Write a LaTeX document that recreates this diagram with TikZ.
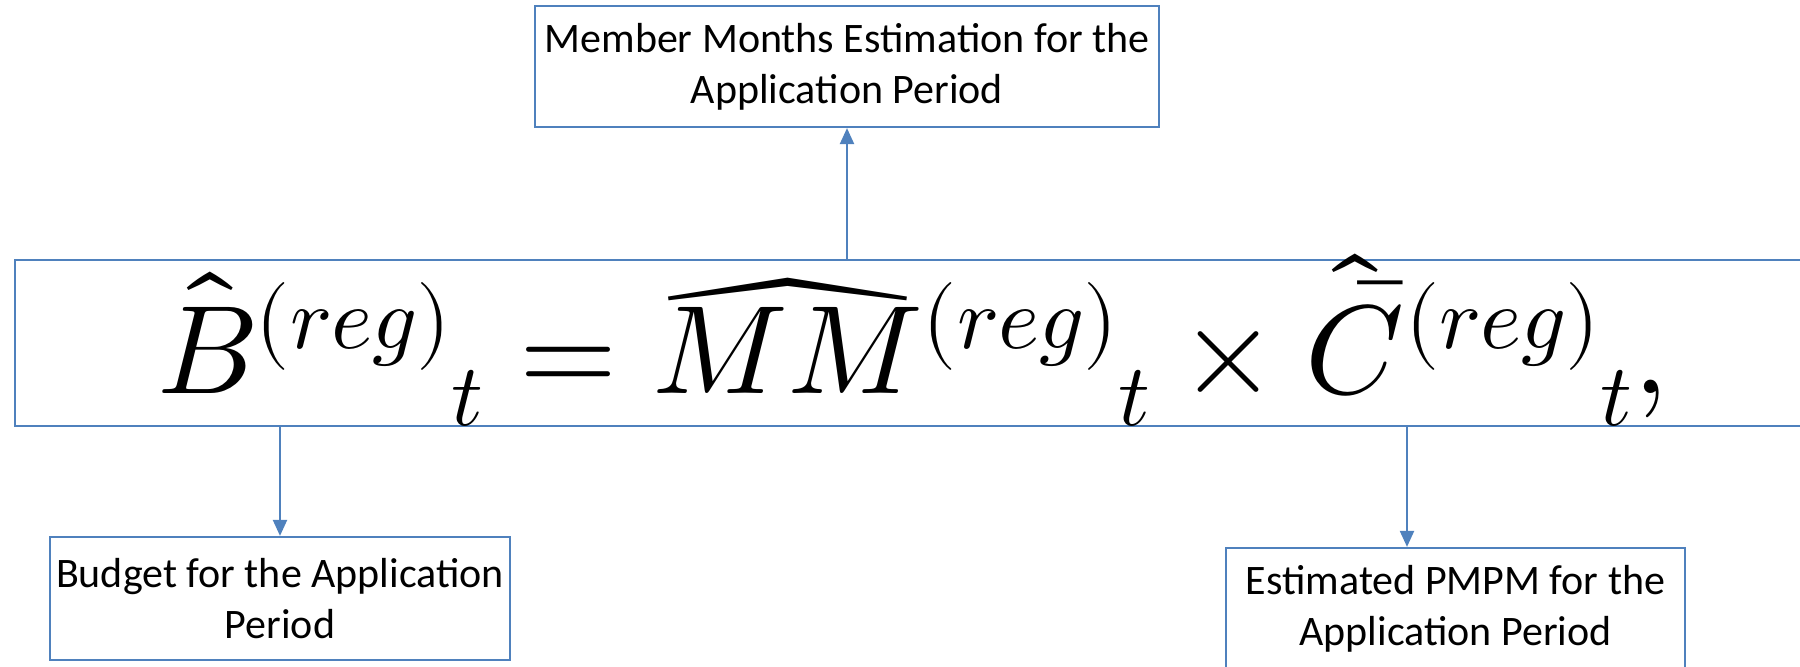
\documentclass[tikz,border=0pt]{standalone}
\usepackage{fontspec}
\usepackage{unicode-math}
\setmainfont{Carlito}
\usetikzlibrary{arrows.meta}
\definecolor{lineblue}{HTML}{4F81BD}
\begin{document}
\begin{tikzpicture}[x=0.5pt,y=-0.5pt,
  box/.style={draw=lineblue, line width=1.1pt, align=center, inner sep=0pt,
    font=\fontsize{21}{25.5}\selectfont},
  conn/.style={draw=lineblue, line width=1.1pt, -{Triangle[width=7pt,length=8pt]}}]
\useasboundingbox (0,0) rectangle (1800,667);
\node[box, minimum width=312pt, minimum height=60.5pt] (mm) at (847,66.5)
  {Member Months Estimation for the\\Application Period};
\node[box, minimum width=898pt, minimum height=83pt] (main) at (913,343) {};
\node[anchor=base, inner sep=0pt, font=\fontsize{63}{70}\selectfont] (eq) at (913,394)
  {$\hat{B}^{(reg)}{}_{t} = \rlap{$MM$}\smash{\raisebox{-4pt}{$\widehat{\phantom{MM}}$}}\vphantom{M}^{(reg)}{}_{t} \times \rlap{$\bar{C}$}\smash{\raisebox{-4.5pt}{$\hat{\phantom{\bar{C}}}$}}\vphantom{C}^{(reg)}{}_{t},$};
\node[box, minimum width=230pt, minimum height=61.5pt] (bud) at (280,598.5)
  {Budget for the Application\\Period};
\node[box, minimum width=229.5pt, minimum height=60.5pt] (pmpm) at (1455.5,608.5)
  {Estimated PMPM for the\\Application Period};
\coordinate (xr) at (1407,0);
\draw[conn] (main.north -| mm.south) -- (mm.south);
\draw[conn] (main.south -| bud.north) -- (bud.north);
\draw[conn] (main.south -| xr) -- (pmpm.north -| xr);
\end{tikzpicture}
\end{document}
